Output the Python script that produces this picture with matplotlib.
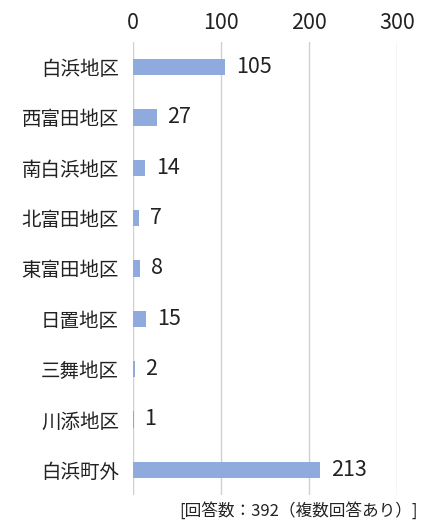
import matplotlib
matplotlib.use("Agg")
import matplotlib.pyplot as plt

plt.rcParams['font.family'] = ['Noto Sans CJK JP', 'DejaVu Sans']

categories = ["白浜地区", "西富田地区", "南白浜地区", "北富田地区", "東富田地区",
              "日置地区", "三舞地区", "川添地区", "白浜町外"]
values = [105, 27, 14, 7, 8, 15, 2, 1, 213]
xticks = [0, 100, 200, 300]
note = "[回答数：392（複数回答あり）]"

fig = plt.figure(figsize=(4.24, 5.2), dpi=100)
ax = fig.add_axes([133/424, 1-495/520, 264/424, 453/520])

y = list(range(len(categories)))
ax.barh(y, values, height=0.32, color="#8FAADC", zorder=3)
for yi, v in zip(y, values):
    ax.text(v + 12, yi, str(v), va="center", ha="left", fontsize=15.5, color="#222222")

ax.set_xlim(0, 300)
ax.set_ylim(len(categories) - 0.5, -0.5)
ax.set_yticks(y)
ax.set_yticklabels(categories, fontsize=14, color="#222222")
ax.set_xticks(xticks)
ax.set_xticklabels([str(t) for t in xticks], fontsize=15.5, color="#222222")
ax.xaxis.tick_top()
ax.tick_params(axis="y", length=0, pad=10)
ax.tick_params(axis="x", length=0, pad=6)
ax.grid(axis="x", color="#D0D0D0", linewidth=1, zorder=0)
for s in ax.spines.values():
    s.set_visible(False)

fig.text(418/424, 1-511/520, note, ha="right", va="center", fontsize=12, color="#222222")

fig.savefig("out.png", dpi=100)
